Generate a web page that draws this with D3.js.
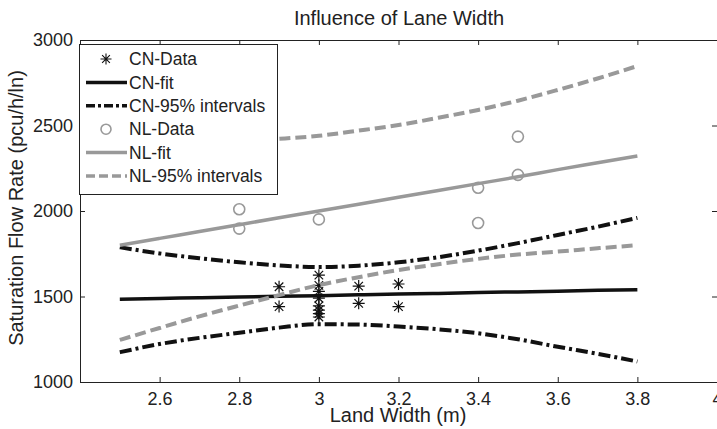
<!DOCTYPE html>
<html>
<head>
<meta charset="utf-8">
<script src="https://cdn.jsdelivr.net/npm/d3@7"></script>
<style>
  body { margin: 0; background: #fff; }
  svg { display: block; font-family: "Liberation Sans", Arial, sans-serif; }
</style>
</head>
<body>
<svg width="717" height="429"></svg>
<script>
// fitted curves sampled along lane width
const xFit = [2.5, 2.6, 2.7, 2.8, 2.9, 3.0, 3.1, 3.2, 3.3, 3.4, 3.5, 3.6, 3.7, 3.8];
const cnFit = [1484, 1488, 1493, 1497, 1501, 1505, 1510, 1514, 1518, 1523, 1527, 1531, 1536, 1540];
const cnUpper = [1788, 1752, 1724, 1700, 1682, 1672, 1680, 1700, 1730, 1768, 1812, 1860, 1908, 1960];
const cnLower = [1174, 1222, 1258, 1288, 1318, 1338, 1336, 1324, 1308, 1285, 1250, 1206, 1165, 1120];
const nlFit = [1800, 1840, 1880, 1920, 1960, 2000, 2040, 2080, 2120, 2160, 2200, 2242, 2282, 2322];
const nlUpper = [2355, 2370, 2388, 2408, 2422, 2440, 2470, 2503, 2545, 2591, 2645, 2708, 2775, 2848];
const nlLower = [1246, 1316, 1384, 1447, 1508, 1567, 1613, 1655, 1689, 1720, 1745, 1763, 1782, 1800];

// observed points
const cnX = [2.9, 2.9, 3.0, 3.0, 3.0, 3.0, 3.0, 3.0, 3.0, 3.0, 3.1, 3.1, 3.2, 3.2];
const cnY = [1557, 1441, 1625, 1565, 1530, 1490, 1445, 1420, 1400, 1380, 1561, 1460, 1573, 1441];
const nlX = [2.8, 2.8, 3.0, 3.4, 3.4, 3.5, 3.5];
const nlY = [2010, 1897, 1951, 2136, 1930, 2435, 2211];

const xTicks = [2.6, 2.8, 3.0, 3.2, 3.4, 3.6, 3.8, 4.0];
const yTicks = [1000, 1500, 2000, 2500, 3000];

const svg = d3.select("svg");
const pLeft = 80, pRight = 717, pTop = 40, pBottom = 382;

const x = d3.scaleLinear().domain([2.4, 4.0]).range([pLeft, pRight]);
const y = d3.scaleLinear().domain([1000, 3000]).range([pBottom, pTop]);

const black = "#111", grey = "#999";

// axes, ticks pointing inward on all four sides
const fmt = d => String(+d.toFixed(1));
svg.append("g")
    .attr("transform", `translate(0,${pBottom})`)
    .call(d3.axisBottom(x).tickValues(xTicks).tickFormat(fmt).tickSizeInner(-5).tickSizeOuter(0).tickPadding(10));
svg.append("g")
    .attr("transform", `translate(0,${pTop})`)
    .call(d3.axisTop(x).tickValues(xTicks).tickFormat("").tickSizeInner(-5).tickSizeOuter(0));
svg.append("g")
    .attr("transform", `translate(${pLeft},0)`)
    .call(d3.axisLeft(y).tickValues(yTicks).tickFormat(d3.format("d")).tickSizeInner(-5).tickSizeOuter(0).tickPadding(7));
svg.append("g")
    .attr("transform", `translate(${pRight},0)`)
    .call(d3.axisRight(y).tickValues(yTicks).tickFormat("").tickSizeInner(-5).tickSizeOuter(0));

svg.selectAll(".tick text").attr("font-size", 18).attr("fill", "#222");
svg.selectAll("g[font-family]").attr("font-family", null);
svg.selectAll(".domain, .tick line").attr("stroke", "#222");

// titles
svg.append("text").attr("x", 399).attr("y", 25).attr("text-anchor", "middle")
    .attr("font-size", 20).attr("fill", "#222").text("Influence of Lane Width");
svg.append("text").attr("x", 398).attr("y", 422).attr("text-anchor", "middle")
    .attr("font-size", 20).attr("fill", "#222").text("Land Width (m)");
svg.append("text").attr("transform", "translate(23,208) rotate(-90)").attr("text-anchor", "middle")
    .attr("font-size", 20).attr("fill", "#222").text("Saturation Flow Rate (pcu/h/ln)");

const line = ys => d3.line().curve(d3.curveMonotoneX)
    .x((d, i) => x(xFit[i])).y(d => y(d))(ys);

function star(r) {
    const k = r * 0.707;
    return `M${-r},0H${r}M0,${-r}V${r}M${-k},${-k}L${k},${k}M${-k},${k}L${k},${-k}`;
}

const plot = svg.append("g");

// CN series
plot.selectAll(".cn").data(cnX).enter().append("path")
    .attr("class", "cn")
    .attr("transform", (d, i) => `translate(${x(d)},${y(cnY[i])})`)
    .attr("d", star(6))
    .attr("stroke", black).attr("stroke-width", 1.2).attr("fill", "none");
plot.append("path").attr("d", line(cnFit))
    .attr("fill", "none").attr("stroke", black).attr("stroke-width", 3.5);
[cnUpper, cnLower].forEach(s => plot.append("path").attr("d", line(s))
    .attr("fill", "none").attr("stroke", black).attr("stroke-width", 4)
    .attr("stroke-dasharray", "12,4,3,4"));

// NL series
plot.selectAll(".nl").data(nlX).enter().append("circle")
    .attr("class", "nl")
    .attr("cx", d => x(d)).attr("cy", (d, i) => y(nlY[i])).attr("r", 5.5)
    .attr("fill", "none").attr("stroke", grey).attr("stroke-width", 1.6);
plot.append("path").attr("d", line(nlFit))
    .attr("fill", "none").attr("stroke", grey).attr("stroke-width", 3.5);
[nlUpper, nlLower].forEach(s => plot.append("path").attr("d", line(s))
    .attr("fill", "none").attr("stroke", grey).attr("stroke-width", 4)
    .attr("stroke-dasharray", "11,5"));

// legend
const items = [
    {name: "CN-Data", kind: "star"},
    {name: "CN-fit", color: black, dash: null},
    {name: "CN-95% intervals", color: black, dash: "9,3,3,3"},
    {name: "NL-Data", kind: "circle"},
    {name: "NL-fit", color: grey, dash: null},
    {name: "NL-95% intervals", color: grey, dash: "9,4"}
];
const lg = svg.append("g");
lg.append("rect").attr("x", 79.5).attr("y", 44.5).attr("width", 198).attr("height", 150)
    .attr("fill", "#fff").attr("stroke", "#222").attr("stroke-width", 1);
const row = lg.selectAll(".item").data(items).enter().append("g")
    .attr("class", "item")
    .attr("transform", (d, i) => `translate(0,${59 + i * 23.4})`);
row.each(function(d) {
    const g = d3.select(this);
    if (d.kind === "star") {
        g.append("path").attr("transform", "translate(106,0)").attr("d", star(5.5))
            .attr("stroke", black).attr("stroke-width", 1.1).attr("fill", "none");
    } else if (d.kind === "circle") {
        g.append("circle").attr("cx", 106).attr("cy", 0).attr("r", 5)
            .attr("fill", "none").attr("stroke", grey).attr("stroke-width", 1.6);
    } else {
        g.append("line").attr("x1", 86).attr("x2", 127)
            .attr("stroke", d.color).attr("stroke-width", 3.5)
            .attr("stroke-dasharray", d.dash);
    }
});
row.append("text").attr("x", 129).attr("dy", "0.35em")
    .attr("font-size", 17.5).attr("fill", "#222").text(d => d.name);
</script>
</body>
</html>
